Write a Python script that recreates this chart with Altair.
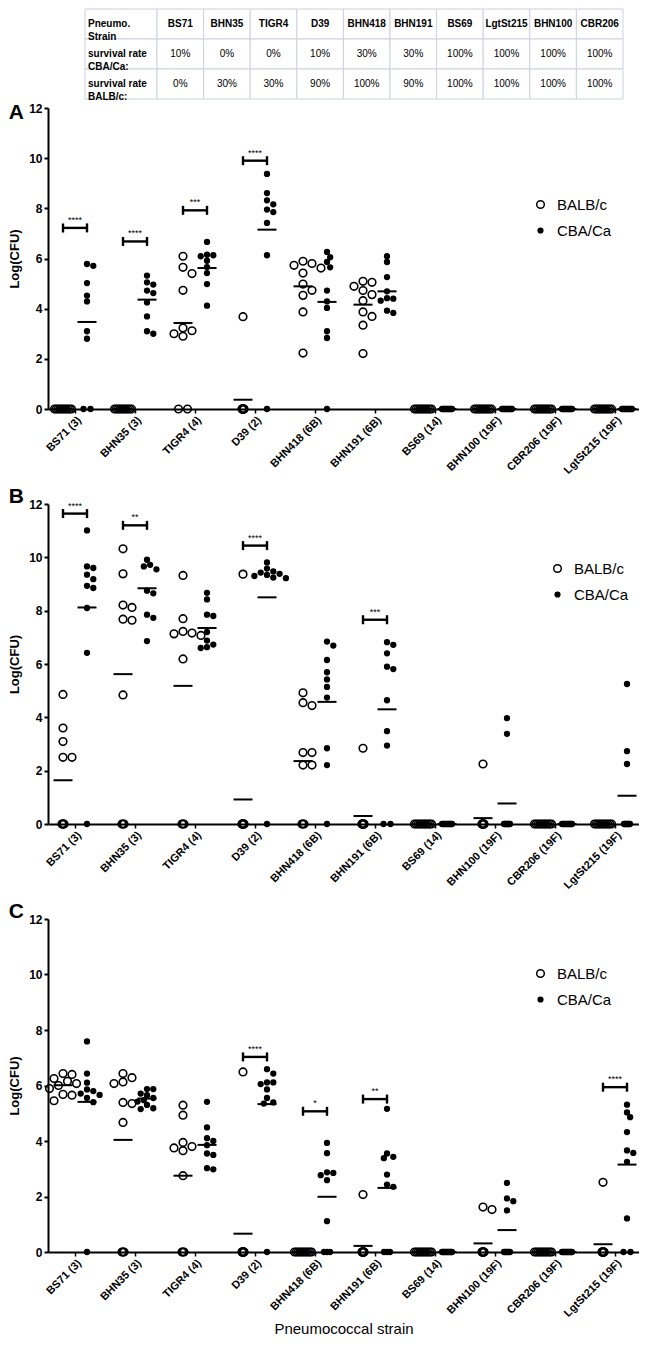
import altair as alt
import numpy as np
import pandas as pd

FONT = "Liberation Sans"

# ---------------- data ----------------
STRAINS = ["BS71 (3)", "BHN35 (3)", "TIGR4 (4)", "D39 (2)", "BHN418 (6B)",
           "BHN191 (6B)", "BS69 (14)", "BHN100 (19F)", "CBR206 (19F)", "LgtSt215 (19F)"]
MICE = ["BALB/c", "CBA/Ca"]

TABLE_STRAINS = ["BS71", "BHN35", "TIGR4", "D39", "BHN418", "BHN191", "BS69",
                 "LgtSt215", "BHN100", "CBR206"]
TABLE_ROW_LABELS = ["Pneumo.\nStrain", "survival rate\nCBA/Ca:", "survival rate\nBALB/c:"]
SURVIVAL_CBA = ["10%", "0%", "0%", "10%", "30%", "30%", "100%", "100%", "100%", "100%"]
SURVIVAL_BALB = ["0%", "30%", "30%", "90%", "100%", "90%", "100%", "100%", "100%", "100%"]

# Panel A
A_BALB = [
    [0, 0, 0, 0, 0, 0, 0, 0, 0, 0],
    [0, 0, 0, 0, 0, 0, 0, 0, 0, 0],
    [6.09, 5.65, 5.40, 4.73, 3.23, 3.12, 3.00, 2.90, 0, 0],
    [3.68, 0, 0, 0, 0, 0, 0, 0, 0, 0],
    [5.89, 5.80, 5.73, 5.62, 5.42, 4.98, 4.73, 4.53, 3.87, 2.23],
    [5.09, 5.05, 4.89, 4.72, 4.56, 4.32, 3.87, 3.69, 3.34, 2.21],
    [0, 0, 0, 0, 0, 0, 0, 0, 0, 0],
    [0, 0, 0, 0, 0, 0, 0, 0, 0, 0],
    [0, 0, 0, 0, 0, 0, 0, 0, 0, 0],
    [0, 0, 0, 0, 0, 0, 0, 0, 0, 0],
]
A_CBA = [
    [5.78, 5.71, 5.02, 4.52, 4.29, 3.10, 2.80, 0, 0],
    [5.32, 5.05, 4.96, 4.72, 4.62, 4.25, 3.69, 3.10, 3.00],
    [6.66, 6.15, 6.13, 6.09, 5.91, 5.66, 5.42, 4.98, 4.12],
    [9.37, 8.61, 8.32, 8.16, 7.95, 7.85, 7.42, 6.13, 0],
    [6.26, 6.05, 5.86, 5.65, 4.72, 4.29, 4.03, 3.10, 2.83, 0],
    [6.09, 5.86, 5.26, 4.69, 4.42, 4.40, 4.32, 3.92, 3.83],
    [0, 0, 0, 0, 0, 0, 0, 0, 0, 0],
    [0, 0, 0, 0, 0, 0, 0, 0, 0, 0],
    [0, 0, 0, 0, 0, 0, 0, 0, 0, 0],
    [0, 0, 0, 0, 0, 0, 0, 0, 0, 0],
]
A_BALB_MEAN = [0, 0, 3.43, 0.37, 4.89, 4.16, 0, 0, 0, 0]
A_CBA_MEAN = [3.47, 4.36, 5.62, 7.15, 4.27, 4.69, 0, 0, 0, 0]
A_BRACKET = [7.22, 6.68, 7.92, 9.90, None, None, None, None, None, None]
A_STARS = ["****", "****", "***", "****", "", "", "", "", "", ""]

# Panel B
B_BALB = [
    [4.86, 3.60, 3.09, 2.50, 2.50, 0, 0, 0, 0, 0],
    [10.32, 9.38, 8.21, 8.12, 7.68, 7.64, 4.84, 0, 0, 0],
    [9.32, 7.70, 7.22, 7.16, 7.13, 7.07, 6.19, 0, 0, 0],
    [9.37, 0, 0, 0, 0, 0, 0, 0, 0, 0],
    [4.92, 4.55, 4.44, 2.68, 2.68, 2.21, 2.21, 0, 0, 0],
    [2.84, 0, 0, 0, 0, 0, 0, 0, 0, 0],
    [0, 0, 0, 0, 0, 0, 0, 0, 0, 0],
    [2.25, 0, 0, 0, 0, 0, 0, 0, 0, 0],
    [0, 0, 0, 0, 0, 0, 0, 0, 0, 0],
    [0, 0, 0, 0, 0, 0, 0, 0, 0, 0],
]
B_CBA = [
    [11.01, 9.66, 9.60, 9.35, 9.18, 8.93, 8.85, 8.10, 6.42, 0],
    [9.91, 9.72, 9.66, 9.55, 8.75, 8.65, 7.85, 7.73, 6.86],
    [8.67, 8.42, 7.85, 7.80, 7.20, 6.88, 6.73, 6.63, 6.60],
    [9.81, 9.58, 9.47, 9.43, 9.38, 9.34, 9.30, 9.24, 9.22, 0],
    [6.84, 6.69, 6.15, 5.69, 5.42, 5.14, 4.74, 2.84, 2.21, 0],
    [6.82, 6.72, 6.40, 5.90, 5.81, 4.64, 3.48, 2.94, 0, 0],
    [0, 0, 0, 0, 0, 0, 0, 0, 0, 0],
    [3.97, 3.38, 0, 0, 0, 0, 0, 0, 0, 0],
    [0, 0, 0, 0, 0, 0, 0, 0, 0, 0],
    [5.25, 2.73, 2.25, 0, 0, 0, 0, 0, 0, 0],
]
B_BALB_MEAN = [1.64, 5.62, 5.18, 0.92, 2.36, 0.30, 0, 0.22, 0, 0]
B_CBA_MEAN = [8.12, 8.84, 7.35, 8.50, 4.58, 4.30, 0, 0.77, 0, 1.06]
B_BRACKET = [11.64, 11.20, None, 10.44, None, 7.66, None, None, None, None]
B_STARS = ["****", "**", "", "****", "", "***", "", "", "", ""]

# Panel C
C_BALB = [
    [6.43, 6.40, 6.25, 6.15, 6.07, 6.00, 5.89, 5.68, 5.65, 5.45],
    [6.43, 6.28, 6.13, 6.07, 5.39, 5.35, 4.67, 0, 0, 0],
    [5.29, 4.93, 3.95, 3.80, 3.75, 3.65, 2.75, 0, 0, 0],
    [6.49, 0, 0, 0, 0, 0, 0, 0, 0, 0],
    [0, 0, 0, 0, 0, 0, 0, 0, 0, 0],
    [2.07, 0, 0, 0, 0, 0, 0, 0, 0, 0],
    [0, 0, 0, 0, 0, 0, 0, 0, 0, 0],
    [1.62, 1.53, 0, 0, 0, 0, 0, 0, 0, 0],
    [0, 0, 0, 0, 0, 0, 0, 0, 0, 0],
    [2.51, 0, 0, 0, 0, 0, 0, 0, 0, 0],
]
C_CBA = [
    [7.59, 6.43, 6.10, 5.86, 5.80, 5.71, 5.66, 5.55, 5.40, 0],
    [5.87, 5.87, 5.71, 5.65, 5.55, 5.47, 5.42, 5.30, 5.18, 5.15],
    [5.41, 4.49, 4.10, 4.00, 3.85, 3.55, 3.50, 3.02, 2.98],
    [6.59, 6.43, 6.11, 6.11, 6.05, 5.86, 5.55, 5.39, 5.35, 0],
    [3.93, 3.56, 2.87, 2.85, 2.77, 2.59, 1.11, 0, 0, 0],
    [5.16, 3.55, 3.43, 3.38, 2.79, 2.43, 2.35, 0, 0, 0],
    [0, 0, 0, 0, 0, 0, 0, 0, 0, 0],
    [2.49, 1.93, 1.83, 1.50, 0, 0, 0, 0, 0, 0],
    [0, 0, 0, 0, 0, 0, 0, 0, 0, 0],
    [5.31, 5.03, 4.86, 4.32, 3.66, 3.57, 3.25, 1.21, 0, 0],
]
C_BALB_MEAN = [6.01, 4.04, 2.75, 0.66, 0, 0.22, 0, 0.31, 0, 0.28]
C_CBA_MEAN = [5.41, 5.53, 3.86, 5.33, 1.99, 2.31, 0, 0.79, 0, 3.15]
C_BRACKET = [None, None, None, 7.03, 5.07, 5.51, None, None, None, 5.94]
C_STARS = ["", "", "", "****", "*", "**", "", "", "", "****"]

# ---------------- layout helpers ----------------
PLOT_W = 591
X_DOMAIN = [-0.45, 9.4]
PX_X = PLOT_W / (X_DOMAIN[1] - X_DOMAIN[0])
SIDE = 0.2
LABEL_EXPR = "[" + ",".join("'" + s + "'" for s in STRAINS) + "][datum.value]"


def zero_spread(n, mouse, all_zero):
    if n <= 1:
        return [0.0] * n
    if mouse == MICE[0]:
        w = 9.0 if n == 2 else (17.0 if all_zero else 2.0)
    else:
        w = 7.0 if n == 2 else (10.0 if all_zero else 6.0)
    return list(np.linspace(-w / 2, w / 2, n))


def swarm(vals, ypx, diam):
    placed = []
    offs = [0.0] * len(vals)
    step = 0.45 * diam
    mind = 0.8 * diam
    cands = [0.0]
    for m in range(1, 12):
        cands += [m * step, -m * step]
    for i in sorted(range(len(vals)), key=lambda k: -vals[k]):
        y = vals[i] * ypx
        for c in cands:
            if all((c - px) ** 2 + (y - py) ** 2 >= mind ** 2 for px, py in placed):
                break
        placed.append((c, y))
        offs[i] = c
    return offs


def build_points(balb, cba, ypx):
    rows = []
    for g in range(len(STRAINS)):
        for mouse, vals, side, diam in ((MICE[0], balb[g], -SIDE, 10.0),
                                        (MICE[1], cba[g], SIDE, 7.0)):
            nz = [v for v in vals if v > 0]
            n0 = len(vals) - len(nz)
            for o in zero_spread(n0, mouse, len(nz) == 0):
                rows.append({"x": g + side + o / PX_X, "v": 0.0, "mouse": mouse})
            for v, o in zip(nz, swarm(nz, ypx, diam)):
                rows.append({"x": g + side + o / PX_X, "v": v, "mouse": mouse})
    return pd.DataFrame(rows)


def panel(letter, balb, cba, mean_b, mean_c, brk, stars, h, lx, ly, toff, xtitle):
    ypx = h / 12.0
    pts = build_points(balb, cba, ypx)
    means = pd.DataFrame([{"x": g + s, "v": m}
                          for g in range(len(STRAINS))
                          for s, m in ((-SIDE, mean_b[g]), (SIDE, mean_c[g]))])
    br = pd.DataFrame([{"x": g - SIDE, "x2": g + SIDE, "xm": g, "v": b, "s": s}
                       for g, (b, s) in enumerate(zip(brk, stars)) if b is not None])
    caps = pd.DataFrame([{"x": g + d, "v": b}
                         for g, b in enumerate(brk) if b is not None
                         for d in (-SIDE, SIDE)])

    xs = alt.Scale(domain=X_DOMAIN, nice=False, zero=False)
    ys = alt.Scale(domain=[0, 12], nice=False)
    x_axis = alt.Axis(values=list(range(len(STRAINS))), labelExpr=LABEL_EXPR,
                      labelAngle=-45, labelAlign="right", labelBaseline="top",
                      labelOverlap=False, labelFlush=False,
                      labelFont=FONT, labelFontSize=11, labelFontWeight="bold",
                      labelColor="black", labelPadding=1, tickSize=4, tickWidth=1.5,
                      tickColor="black", domainWidth=2, domainColor="black",
                      grid=False, title=xtitle, titleFont=FONT, titleFontSize=15,
                      titleFontWeight="normal", titleColor="black", titlePadding=3)
    y_axis = alt.Axis(values=[0, 2, 4, 6, 8, 10, 12], labelFont=FONT, labelFontSize=12,
                      labelFontWeight="bold", labelColor="black", labelPadding=2,
                      tickSize=4, tickWidth=2, tickColor="black", domainWidth=2,
                      domainColor="black", grid=False, title="Log(CFU)",
                      titleFont=FONT, titleFontSize=13, titleFontWeight="bold",
                      titleColor="black", titlePadding=7)
    leg = alt.Legend(title=None, orient="none", legendX=lx, legendY=ly,
                     labelFont=FONT, labelFontSize=15, labelColor="black",
                     rowPadding=10, labelOffset=9, symbolStrokeColor="black",
                     symbolStrokeWidth=1.5, symbolType="circle")

    X = lambda f: alt.X(f, scale=xs, axis=x_axis)
    Y = lambda f: alt.Y(f, scale=ys, axis=y_axis)

    points = alt.Chart(pts).mark_point(shape="circle", filled=True, stroke="black",
                                       strokeWidth=1.6, opacity=1).encode(
        x=X("x:Q"),
        y=Y("v:Q"),
        fill=alt.Fill("mouse:N", scale=alt.Scale(domain=MICE, range=["transparent", "black"]),
                      legend=leg),
        stroke=alt.Stroke("mouse:N", scale=alt.Scale(domain=MICE, range=["black", "black"]),
                          legend=leg),
        size=alt.Size("mouse:N", scale=alt.Scale(type="ordinal", domain=MICE, range=[58, 22]),
                      legend=leg),
    )
    mean_lines = alt.Chart(means).mark_tick(orient="horizontal", size=19, thickness=2,
                                            color="black", opacity=1).encode(
        x=X("x:Q"), y=Y("v:Q"))
    bars = alt.Chart(br).mark_rule(strokeWidth=2.4, color="black").encode(
        x=X("x:Q"), x2="x2:Q", y=Y("v:Q"))
    cap_marks = alt.Chart(caps).mark_tick(orient="vertical", size=9, thickness=2.4,
                                          color="black", opacity=1).encode(
        x=X("x:Q"), y=Y("v:Q"))
    star_text = alt.Chart(br).mark_text(font=FONT, fontSize=9, dy=-8, color="black").encode(
        x=X("xm:Q"), y=Y("v:Q"), text="s:N")
    return alt.layer(points, mean_lines, bars, cap_marks, star_text).properties(
        width=PLOT_W, height=h,
        title=alt.TitleParams(letter, anchor="start", frame="bounds", font=FONT,
                              fontSize=21, fontWeight="bold", color="black", offset=toff),
    )


# ---------------- table ----------------
LABEL_W = 1.545
T_DOMAIN = [-2.339, 10]
T_WIDTH = 575
cells, heads, vals, labs = [], [], [], []
for r in range(3):
    cells.append({"x1": -LABEL_W, "x2": 0, "y1": r, "y2": r + 1})
    labs.append({"x1": -LABEL_W, "yc": r + 0.5, "t": TABLE_ROW_LABELS[r]})
    for c in range(len(TABLE_STRAINS)):
        cells.append({"x1": c, "x2": c + 1, "y1": r, "y2": r + 1})
for c, s in enumerate(TABLE_STRAINS):
    heads.append({"xc": c + 0.5, "yc": 0.5, "t": s})
    vals.append({"xc": c + 0.5, "yc": 1.5, "t": SURVIVAL_CBA[c]})
    vals.append({"xc": c + 0.5, "yc": 2.5, "t": SURVIVAL_BALB[c]})

tx = alt.Scale(domain=T_DOMAIN, nice=False, zero=False)
ty = alt.Scale(domain=[0, 3], reverse=True, nice=False)
t_rect = alt.Chart(pd.DataFrame(cells)).mark_rect(fill="white", stroke="#cdd1e2",
                                                  strokeWidth=1).encode(
    x=alt.X("x1:Q", scale=tx, axis=None), x2="x2:Q",
    y=alt.Y("y1:Q", scale=ty, axis=None), y2="y2:Q")
t_head = alt.Chart(pd.DataFrame(heads)).mark_text(font=FONT, fontSize=10, fontWeight="bold",
                                                  color="black").encode(
    x=alt.X("xc:Q", scale=tx, axis=None), y=alt.Y("yc:Q", scale=ty, axis=None), text="t:N")
t_vals = alt.Chart(pd.DataFrame(vals)).mark_text(font=FONT, fontSize=10,
                                                 color="black").encode(
    x=alt.X("xc:Q", scale=tx, axis=None), y=alt.Y("yc:Q", scale=ty, axis=None), text="t:N")
t_labs = alt.Chart(pd.DataFrame(labs)).mark_text(font=FONT, fontSize=10, fontWeight="bold",
                                                 align="left", dx=3, lineBreak="\n",
                                                 lineHeight=13, color="black").encode(
    x=alt.X("x1:Q", scale=tx, axis=None), y=alt.Y("yc:Q", scale=ty, axis=None), text="t:N")
table = alt.layer(t_rect, t_head, t_vals, t_labs).properties(width=T_WIDTH, height=90)

pA = panel("A", A_BALB, A_CBA, A_BALB_MEAN, A_CBA_MEAN, A_BRACKET, A_STARS,
           301, 485, 89, -21, None)
pB = panel("B", B_BALB, B_CBA, B_BALB_MEAN, B_CBA_MEAN, B_BRACKET, B_STARS,
           320, 502, 57, -9, None)
pC = panel("C", C_BALB, C_CBA, C_BALB_MEAN, C_CBA_MEAN, C_BRACKET, C_STARS,
           333, 485, 47, -9, "Pneumococcal strain")

RES = dict(fill="independent", size="independent", stroke="independent")
panels = alt.vconcat(pA, pB, pC, spacing=10).resolve_scale(**RES).resolve_legend(**RES)

chart = alt.vconcat(table, panels, spacing=0).resolve_scale(**RES).resolve_legend(
    **RES).properties(padding=0, background="white").configure_view(stroke=None)

chart.save("out.html", embed_options={"renderer": "svg", "actions": False})
